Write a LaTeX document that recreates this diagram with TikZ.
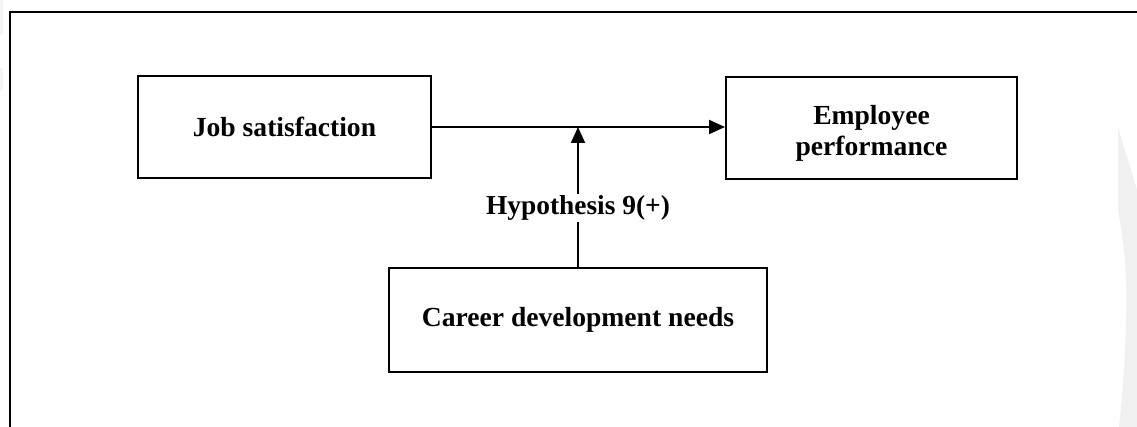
\documentclass[tikz,border=0pt]{standalone}
\usepackage{fontspec}
\setmainfont{Liberation Serif}
\usetikzlibrary{arrows.meta}
\begin{document}
\begin{tikzpicture}[x=1pt,y=-1pt,
  txt/.style={font=\fontsize{27.6}{30}\selectfont\bfseries},
  box/.style={draw=black,line width=2pt,inner sep=0pt,align=center,txt},
  conn/.style={line width=2pt,-{Triangle[length=16pt,width=14pt]}},
  lbl/.style={fill=white,inner sep=2pt,font=\fontsize{27.4}{30}\selectfont\bfseries}]
\useasboundingbox (0,0) rectangle (1137,427);
\clip (0,0) rectangle (1137,427);
% faint background shapes
\fill[black!6] (1118,127) -- (1137,190) -- (1137,427) -- (1119,427)
  .. controls (1126,360) and (1128,300) .. (1125,260)
  .. controls (1122,230) and (1118,215) .. (1118,205) -- cycle;
\fill[black!4] (0,0) rectangle (3,35);
\fill[black!4] (0,68) rectangle (3,90);
% outer frame
\draw[line width=2pt] (10,440) -- (10,12) -- (1150,12);
% nodes
\node[box,minimum width=293pt,minimum height=102pt] (js) at (284.5,127) {Job satisfaction};
\node[box,minimum width=291pt,minimum height=102pt,
  label={[txt,align=center,yshift=-5pt]center:Employee\\[1pt]performance}] (ep) at (871.5,128) {};
\node[box,minimum width=378pt,minimum height=104pt] (cd) at (578,320) {\raisebox{-3pt}{Career development needs}};
\coordinate (m) at (cd.north |- js.east);
% connectors
\draw[conn] (js.east) -- (ep.west |- js.east);
\draw[conn] (cd.north) -- (m);
\node[lbl] (h) at (578,208) {Hypothesis 9(+)};
\end{tikzpicture}
\end{document}
